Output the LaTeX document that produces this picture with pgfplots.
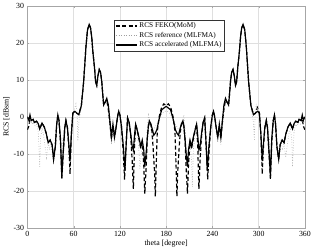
\documentclass[border=0pt]{standalone}
\usepackage{pgfplots}
\pgfplotsset{compat=1.18}
\usepackage{fontspec}
\setmainfont{Liberation Serif}
\begin{document}
\begin{tikzpicture}
\begin{axis}[
  scale only axis, width=284pt, height=227pt,
  xmin=0, xmax=360, ymin=-30, ymax=30,
  xtick={0,60,...,360}, ytick={-30,-20,...,30},
  grid=major, major grid style={gray!25, line width=0.4pt},
  axis line style={gray!70}, tick style={gray!70}, tick align=inside,
  major tick length=2pt,
  ticklabel style={font=\fontsize{8}{9}\selectfont},
  /pgf/number format/assume math mode=true,
  xlabel={theta [degree]}, ylabel={RCS [dBsm]},
  label style={font=\fontsize{8}{9}\selectfont},
  xlabel style={yshift=3pt}, ylabel style={yshift=-3pt},
  legend style={at={(0.313,0.938)}, anchor=north west, font=\fontsize{7.5}{8.5}\selectfont,
    draw=black!80, line width=0.4pt, inner sep=1pt, row sep=-1pt},
  legend cell align=left,
  legend image code/.code={\draw[#1] (0cm,0cm) -- (0.75cm,0cm);},
]
\addplot[black, line width=1.2pt, dash pattern=on 4pt off 2.5pt] coordinates {
(0,-3.5)(2,-2.5)(3.4,-0.5)(5,-1)(7.6,-0.7)(9,-1.5)(11.8,-1.2)(14,-1.8)(16,-3.3)(19,-1.7)
(22,-2.8)(24.5,-4.5)(27,-7)(29.5,-6.3)(32,-7.5)(34,-11.5)(36.3,-8)(38,-2)(39.5,0.5)(41,-1)
(43,-7)(44.7,-17)(46.5,-10)(48.5,-3)(50,-1)(52,-3)(54,-9)(55.3,-15.5)(57,-5)(59,1)
(61.6,1.5)(64,1)(66.7,0.6)(70,3)(73,9.5)(76,19)(78,23.5)(80.2,25)(82,24)(83.5,21.5)
(85,17.5)(87,13.5)(88.5,9.5)(90,8.5)(91.5,11)(93.2,12.8)(95,12)(96.5,9.5)(98,5.5)(99,3.2)
(101,4)(103,4.5)(105,2)(107,-1.5)(109,-6)(111,-2.5)(113,-5.5)(115,-3)(117,0)(118.5,1.5)
(120,0.5)(122,-2.5)(124.5,-10)(126,-17)(128,-8)(130,-0.3)(132,-1.5)(134,-5)(136,-12)(137.5,-19.5)
(139,-8)(140.5,-2)(142.6,-3.7)(144.7,-6)(147,-8.5)(149,-7)(151,-13)(152.3,-20.8)(154,-14)(155.5,-6)
(157,-2.5)(158.2,-1.5)(160,-2)(161.6,-4)(163,-8)(165,-15)(166,-21.5)(167,-14)(168.5,-4)(171,0)
(174,2.5)(177,3.5)(180,3)
(183,3.5)(186,2.5)(189,0)(191.5,-4)(193,-14)(194,-21.5)(195,-15)(197,-8)(198.4,-4)(200,-2)
(201.8,-1.5)(203,-2.5)(204.5,-6)(206,-14)(207.7,-20.8)(209,-13)(211,-7)(213,-8.5)(215.3,-6)(217.4,-3.7)
(219.5,-2)(221,-8)(222.5,-19.5)(224,-12)(226,-5)(228,-1.5)(230,-0.3)(232,-8)(234,-17)(235.5,-10)
(238,-2.5)(240,0.5)(241.5,1.5)(243,0)(245,-3)(247,-5.5)(249,-2.5)(251,-6)(253,-1.5)(255,2)
(257,4.5)(259,4)(261,3.2)(262,5.5)(263.5,9.5)(265,12)(266.8,12.8)(268.5,11)(270,8.5)(271.5,9.5)
(273,13.5)(275,17.5)(276.5,21.5)(278,24)(279.8,25)(282,23.5)(284,19)(287,9.5)(290,3)(293.3,0.6)
(296,1)(298.4,2.5)(301,1)(303,-5)(304.7,-15.5)(306,-9)(308,-3)(310,-1)(311.5,-3)(313.5,-10)
(315.3,-17)(317,-7)(319,-1)(320.5,0.5)(322,-2)(323.7,-8)(326,-11.5)(328,-7.5)(330.5,-6.3)(333,-7)
(335.5,-4.5)(338,-2.8)(341,-1.7)(344,-3.3)(346,-1.8)(348.2,-1.2)(351,-1.5)(352.4,-0.7)(355,-1)(356.6,-0.5)
(358,-2.5)(360,-3.5)
};
\addlegendentry{RCS FEKO(MoM)}
\addplot[gray!75, line width=0.6pt, dotted] coordinates {
(0,-1)(2,-2)(4,-1)(6,-2)(8,-1.5)(10,-2.5)(12,-2)(14,-4)(15,-8)(16,-13.5)
(17,-6)(19,-3)(21,-5)(23,-8)(25,-11)(27,-7)(29,-9)(31,-6.5)(33,-8)(35,-10)
(36.5,-5)(38,-1)(39.5,0)(41,-2)(43,-9)(44.5,-12)(46,-6)(48.5,-1.5)(50,-1)(52,-3.5)
(54,-9)(55.5,-11)(57,-4)(59,0.5)(61,2)(63,3.5)(64.5,1)(65.5,-6.5)(67,-1)(70,2.5)
(73,9.5)(76,19)(78,23.5)(80.2,25)(82,24)(83.5,21.5)(85,17.5)(87,13.5)(88.5,9.5)(90,8.5)
(91.5,11)(93.2,12.8)(95,12)(96.5,9.5)(98,5.5)(99,3.2)(101,4)(103,4)(105,1)(107,-3)
(109,-7.5)(111,-3)(113,-7)(115,-4)(117,-0.5)(118.5,1)(120,0)(122,-3)(124.5,-7)(126.6,-12)
(128.5,-7)(130,-1)(132,-2.5)(134,-6)(136,-9)(137.5,-12)(139,-6)(140.5,-3)(142.6,-5)(144.7,-9)
(146,-14)(147,-12)(149,-7)(151,-10)(152.3,-12)(154,-9)(155.5,-3)(157,0.5)(158.2,-0.5)(160,-3)
(161.6,-6)(163,-4)(165,-3)(168,-2)(171,-1)(174.3,0.8)(178.5,1.5)(180,1.5)
(181.5,1.5)(185.7,0.8)(189,-1)(192,-2)(195,-3)(197,-4)(198.4,-6)(200,-3)(201.8,-0.5)(203,0.5)
(204.5,-3)(206,-9)(207.7,-12)(209,-10)(211,-7)(213,-12)(214,-19)(215.3,-9)(217.4,-5)(219.5,-3)
(221,-6)(222.5,-12)(224,-9)(226,-6)(228,-2.5)(230,-1)(231.5,-7)(233.4,-12)(235.5,-7)(238,-3)
(240,0)(241.5,1)(243,-0.5)(245,-4)(247,-7)(249,-3)(251,-7.5)(253,-3)(255,1)(257,4)
(259,4)(261,3.2)(262,5.5)(263.5,9.5)(265,12)(266.8,12.8)(268.5,11)(270,8.5)(271.5,9.5)(273,13.5)
(275,17.5)(276.5,21.5)(278,24)(279.8,25)(282,23.5)(284,19)(287,9.5)(290,2.5)(293,-1)(294.5,-6.5)
(295.5,1)(297,3.5)(299,2)(301,0.5)(303,-4)(304.5,-11)(306,-9)(307.5,-1.5)(310,-1)(311.5,-1.5)
(314,-6)(315.5,-12)(317,-9)(319,-1)(320.5,0)(322,-1)(323.5,-5)(325,-10)(327,-8)(329,-6.5)
(331,-9)(333,-7)(335,-11)(337,-8)(339,-5)(341,-3)(343,-6)(344,-13.5)(345,-8)(346,-4)
(348,-2)(350,-2.5)(352,-1.5)(354,-2)(356,-1)(358,-2)(360,-1)
};
\addlegendentry{RCS reference (MLFMA)}
\addplot[black, line width=1.2pt] coordinates {
(0,0)(2,-1)(3.4,0.5)(5,-1)(7.6,-0.7)(9,-1.5)(11.8,-1.2)(14,-1.8)(16,-3.3)(19,-1.7)
(22,-2.8)(24.5,-4.5)(27,-7)(29.5,-6.3)(32,-7.5)(34,-11.5)(36.3,-8)(38,-2)(39.5,0.5)(41,-1)
(43,-6)(44.7,-16)(46.5,-9.5)(48.5,-3)(50,-1)(52,-3)(54,-8)(55.3,-12)(57,-5)(59,1)
(61.6,1.5)(64,1)(66.7,0.6)(70,3)(73,9.5)(76,19)(78,23.5)(80.2,25)(82,24)(83.5,21.5)
(85,17.5)(87,13.5)(88.5,9.5)(90,8.5)(91.5,11)(93.2,12.8)(95,12)(96.5,9.5)(98,5.5)(99,3.2)
(101,4)(103,5)(105,3.2)(107,-1)(109,-5.5)(111,-2)(113,-5.5)(115,-3)(117,0)(118.5,1.5)
(120,0.5)(122,-2.5)(124.5,-8)(126.6,-14.5)(128.5,-6)(130,-0.3)(132,-1.5)(134,-4.5)(136,-8)(137.5,-9)
(139,-5)(140.5,-2)(142.6,-3.7)(144.7,-5.5)(147,-8)(149,-6.3)(151,-9)(152.3,-13.5)(154,-10)(155.5,-6)
(157,-2.5)(158.2,-1.1)(160,-1.8)(161.6,-3)(164,-5)(165.8,-4.5)(168,-3.5)(171,-0.5)(174.3,1.9)(178.5,2.6)
(180,2.8)
(181.5,2.6)(185.7,1.9)(189,-0.5)(192,-3.5)(194.2,-4.5)(196,-5)(198.4,-3)(200,-1.8)(201.8,-1.1)(203,-2.5)
(204.5,-6)(206,-10)(207.7,-13.5)(209,-9)(211,-6.3)(213,-8)(215.3,-5.5)(217.4,-3.7)(219.5,-2)(221,-5)
(222.5,-9)(224,-8)(226,-4.5)(228,-1.5)(230,-0.3)(231.5,-6)(233.4,-14.5)(235.5,-8)(238,-2.5)(240,0.5)
(241.5,1.5)(243,0)(245,-3)(247,-5.5)(249,-2)(251,-5.5)(253,-1)(255,3.2)(257,5)(259,4)
(261,3.2)(262,5.5)(263.5,9.5)(265,12)(266.8,12.8)(268.5,11)(270,8.5)(271.5,9.5)(273,13.5)(275,17.5)
(276.5,21.5)(278,24)(279.8,25)(282,23.5)(284,19)(287,9.5)(290,3)(293.3,0.6)(296,1)(298.4,1.5)
(301,1)(303,-5)(304.7,-12)(306,-8)(308,-3)(310,-1)(311.5,-3)(313.5,-9.5)(315.3,-16)(317,-6)
(319,-1)(320.5,0.5)(322,-2)(323.7,-8)(326,-11.5)(328,-7.5)(330.5,-6.3)(333,-7)(335.5,-4.5)(338,-2.8)
(341,-1.7)(344,-3.3)(346,-1.8)(348.2,-1.2)(351,-1.5)(352.4,-0.7)(355,-1)(356.6,0.5)(358,-1)(360,0)
};
\addlegendentry{RCS accelerated (MLFMA)}
\end{axis}
\end{tikzpicture}
\end{document}
